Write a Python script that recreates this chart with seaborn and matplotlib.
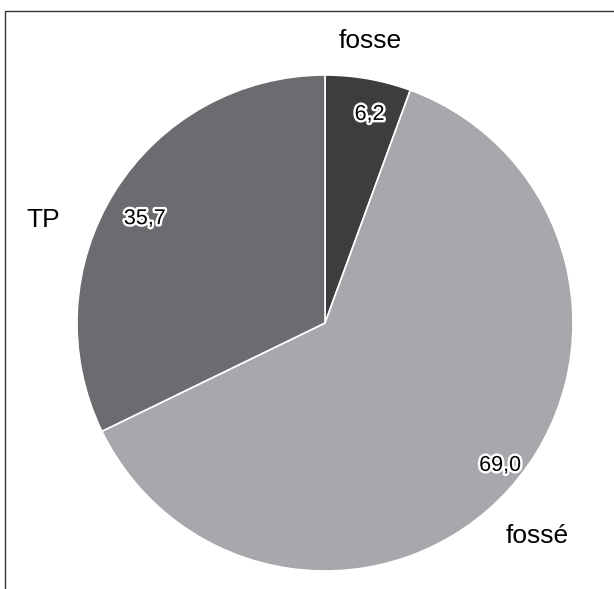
import numpy as np
import pandas as pd
import matplotlib
matplotlib.use("Agg")
import matplotlib.pyplot as plt
import matplotlib.patheffects as pe
import seaborn as sns

sns.set_theme(style="white")
plt.rcParams["font.family"] = ["Liberation Sans", "DejaVu Sans"]

# data
categories = ["fosse", "fossé", "TP"]
values = [6.2, 69.0, 35.7]
colors = ["#3d3d3f", "#a7a8ab", "#6b6c70"]

# small per-label nudges (degrees) to sit like the original
label_shift = [1, -3, 12]
label_dist = [1.15, 1.21, 1.21]
value_shift = [-2, 3, 2]
value_dist = [0.86, 0.91, 0.84]

df = pd.DataFrame({"cat": categories, "val": values})

fig = plt.figure(figsize=(6.14, 5.89), dpi=100)
ax = fig.add_axes([(325 - 248) / 614, 1 - (323 + 248) / 589, 496 / 614, 496 / 589])

wedges, _ = ax.pie(
    df["val"],
    colors=colors,
    startangle=90,
    counterclock=False,
    radius=1.0,
    wedgeprops=dict(edgecolor="white", linewidth=1.2),
)
ax.set_xlim(-1, 1)
ax.set_ylim(-1, 1)
ax.set_aspect("equal")

stroke = [pe.withStroke(linewidth=3.5, foreground="white")]
for i, w in enumerate(wedges):
    mid = (w.theta1 + w.theta2) / 2
    a = np.deg2rad(mid + label_shift[i])
    ax.text(label_dist[i] * np.cos(a), label_dist[i] * np.sin(a), df["cat"][i],
            ha="center", va="center", fontsize=19, color="black", clip_on=False)
    b = np.deg2rad(mid + value_shift[i])
    txt = f"{df['val'][i]:.1f}".replace(".", ",")
    ax.text(value_dist[i] * np.cos(b), value_dist[i] * np.sin(b), txt,
            ha="center", va="center", fontsize=15.5, color="black",
            path_effects=stroke)

# frame around the figure (open at bottom / right edge)
fig.add_artist(plt.Rectangle((5 / 614, -0.05), 1.2, 1 - 11 / 589 + 0.05,
                             transform=fig.transFigure, fill=False,
                             edgecolor="#333333", linewidth=1.0))

fig.savefig("out.png", dpi=100)
